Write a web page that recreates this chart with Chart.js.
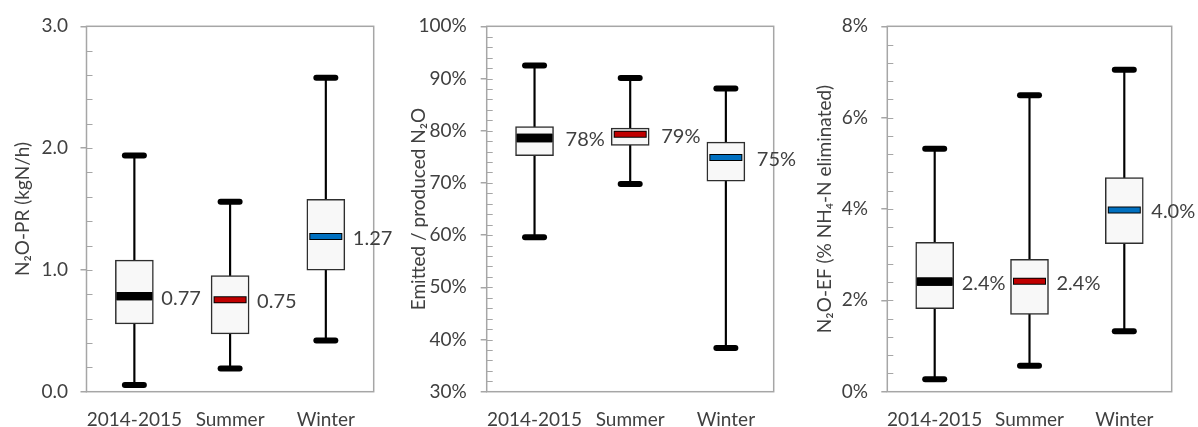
<!DOCTYPE html>
<html><head><meta charset="utf-8">
<script src="https://cdn.jsdelivr.net/npm/chart.js@4"></script>
<style>
html,body{margin:0;padding:0;background:#fff;}
#wrap{position:relative;width:1198px;height:427px;overflow:hidden;background:#fff;}
.p{position:absolute;top:0;height:427px;}
</style></head><body>
<div id="wrap">
<div class="p" style="left:0;width:400px"><canvas id="c1" width="400" height="427"></canvas></div>
<div class="p" style="left:400px;width:400px"><canvas id="c2" width="400" height="427"></canvas></div>
<div class="p" style="left:800px;width:398px"><canvas id="c3" width="398" height="427"></canvas></div>
</div>
<script>
// ---- data ----
const categories = ['2014-2015', 'Summer', 'Winter'];
const medianColors = ['#000000', '#c00000', '#0070c0'];

// Panel 1: N2O production rate (kgN/h)
const prMin    = [0.055, 0.19, 0.42];
const prQ1     = [0.557, 0.475, 0.997];
const prMedian = [0.785, 0.755, 1.274];
const prQ3     = [1.08, 0.953, 1.58];
const prMax    = [1.94, 1.56, 2.577];
const prLabels = ['0.77', '0.75', '1.27'];
const prTicks  = [0, 1, 2, 3];

// Panel 2: emitted / produced N2O (%)
const ratioMin    = [59.6, 69.8, 38.35];
const ratioQ1     = [75.2, 77.2, 70.35];
const ratioMedian = [78.6, 79.3, 74.85];
const ratioQ3     = [80.8, 80.5, 77.8];
const ratioMax    = [92.5, 90.1, 88.1];
const ratioLabels = ['78%', '79%', '75%'];
const ratioTicks  = [30, 40, 50, 60, 70, 80, 90, 100];

// Panel 3: N2O emission factor (% NH4-N eliminated)
const efMin    = [0.27, 0.57, 1.325];
const efQ1     = [1.82, 1.69, 3.24];
const efMedian = [2.41, 2.42, 3.98];
const efQ3     = [3.27, 2.90, 4.69];
const efMax    = [5.32, 6.49, 7.05];
const efLabels = ['2.4%', '2.4%', '4.0%'];
const efTicks  = [0, 2, 4, 6, 8];

const FONT = 'Lato';
const TEXT = '#404040';
const FRAME = '#a6a6a6';

const framePlugin = {
  id: 'frame',
  beforeDatasetsDraw(chart) {
    const {ctx, chartArea: a} = chart;
    const y = chart.scales.y;
    const step = chart.options.minorStep;
    ctx.save();
    ctx.strokeStyle = FRAME;
    ctx.lineWidth = 1.5;
    ctx.strokeRect(a.left, a.top, a.right - a.left, a.bottom - a.top);
    ctx.lineWidth = 1.2;
    ctx.beginPath();
    const n = Math.round((y.max - y.min) / step);
    for (let k = 1; k < n; k++) {
      const py = Math.round(y.getPixelForValue(y.min + k * step)) + 0.5;
      ctx.moveTo(a.left, py);
      ctx.lineTo(a.left + 6, py);
    }
    ctx.stroke();
    ctx.restore();
  },
  beforeDatasetDraw(chart, args) {
    if (args.meta && chart.data.datasets[args.index].roundCap) chart.ctx.lineCap = 'round';
  },
  afterDatasetDraw(chart) { chart.ctx.lineCap = 'butt'; },
  afterDatasetsDraw(chart) {
    const {ctx} = chart;
    const x = chart.scales.x, y = chart.scales.y;
    const o = chart.options.valueLabels;
    ctx.save();
    ctx.font = '20px ' + FONT;
    ctx.fillStyle = TEXT;
    ctx.textAlign = 'left';
    ctx.textBaseline = 'middle';
    o.values.forEach((v, i) => {
      ctx.fillText(o.texts[i], x.getPixelForValue(i) + o.dx, y.getPixelForValue(v) + 2);
    });
    ctx.restore();
  }
};

function makeChart(id, d) {
  const capOpts = {type: 'line', showLine: false, pointStyle: 'line', pointRadius: 9.5,
    pointBorderWidth: 6, pointBorderColor: '#000', pointBackgroundColor: '#000', roundCap: true};
  return new Chart(document.getElementById(id), {
    type: 'bar',
    data: {
      labels: categories,
      datasets: [
        {type: 'bar', data: d.min.map((v, i) => [v, d.max[i]]), backgroundColor: '#000',
          barThickness: 1.5, grouped: false, order: 6},
        {type: 'bar', data: d.q1.map((v, i) => [v, d.q3[i]]), backgroundColor: '#f8f8f8',
          borderColor: '#2e2e2e', borderWidth: 1.5, borderSkipped: false, barThickness: 38,
          grouped: false, order: 5},
        Object.assign({data: d.max, order: 4}, capOpts),
        Object.assign({data: d.min, order: 3}, capOpts),
        {type: 'line', data: d.median, showLine: false, pointStyle: 'line',
          pointRadius: [18, 16.5, 16.5], pointBorderWidth: [8.3, 7, 7],
          pointBorderColor: '#000', order: 2},
        {type: 'line', data: d.median, showLine: false, pointStyle: 'line',
          pointRadius: [17.5, 15.5, 15.5], pointBorderWidth: [8.3, 5, 5],
          pointBorderColor: medianColors, order: 1}
      ]
    },
    options: {
      responsive: false, animation: false, devicePixelRatio: 1, events: [],
      minorStep: d.minorStep,
      valueLabels: {values: d.median, texts: d.labels, dx: d.labelDx},
      layout: {padding: {top: 23, right: d.padRight, left: 0, bottom: 0}},
      plugins: {legend: {display: false}, tooltip: {enabled: false}},
      scales: {
        x: {
          offset: true,
          grid: {display: false, drawTicks: false},
          border: {display: false},
          ticks: {font: {family: FONT, size: 19}, color: TEXT, padding: 17, maxRotation: 0, autoSkip: false},
          afterFit: s => { s.height = 35.3; }
        },
        y: {
          min: d.ticks[0], max: d.ticks[d.ticks.length - 1],
          afterBuildTicks: s => { s.ticks = d.ticks.map(v => ({value: v})); },
          grid: {display: true, drawOnChartArea: false, drawTicks: true, tickLength: 6, color: FRAME, lineWidth: 1.5},
          border: {display: false},
          ticks: {font: {family: FONT, size: 19}, color: TEXT, padding: d.tickPad, callback: d.fmt},
          title: {display: true, text: d.title, font: {family: FONT, size: 19}, color: TEXT,
            padding: {top: d.titlePad, bottom: 0}},
          afterFit: s => { s.width = d.yWidth; }
        }
      }
    },
    plugins: [framePlugin]
  });
}

makeChart('c1', {min: prMin, q1: prQ1, median: prMedian, q3: prQ3, max: prMax, labels: prLabels,
  ticks: prTicks, fmt: v => v.toFixed(1), minorStep: 0.2, title: 'N₂O-PR (kgN/h)',
  yWidth: 86.5, padRight: 26, tickPad: 12.5, titlePad: 11, labelDx: 27});
makeChart('c2', {min: ratioMin, q1: ratioQ1, median: ratioMedian, q3: ratioQ3, max: ratioMax, labels: ratioLabels,
  ticks: ratioTicks, fmt: v => v + '%', minorStep: 2, title: 'Emitted / produced N₂O',
  yWidth: 86.7, padRight: 26, tickPad: 14, titlePad: 7, labelDx: 31});
makeChart('c3', {min: efMin, q1: efQ1, median: efMedian, q3: efQ3, max: efMax, labels: efLabels,
  ticks: efTicks, fmt: v => v + '%', minorStep: 0.4, title: 'N₂O-EF (% NH₄-N eliminated)',
  yWidth: 87.3, padRight: 25, tickPad: 13.3, titlePad: 13, labelDx: 27});
</script>
</body></html>
